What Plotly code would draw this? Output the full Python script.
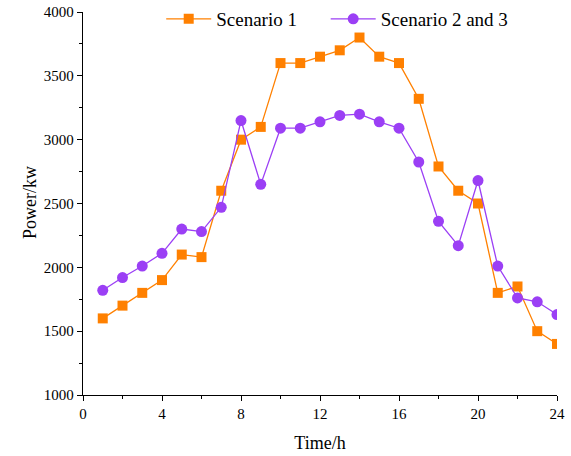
import plotly.graph_objects as go

hours = list(range(1, 25))
scenario1 = [1600, 1700, 1800, 1900, 2100, 2080, 2600, 3000, 3100, 3600, 3600, 3650,
             3700, 3800, 3650, 3600, 3320, 2790, 2600, 2500, 1800, 1850, 1500, 1400]
scenario23 = [1820, 1920, 2010, 2110, 2300, 2280, 2470, 3150, 2650, 3090, 3090, 3140,
              3190, 3200, 3140, 3090, 2825, 2360, 2170, 2680, 2010, 1760, 1730, 1630]

x_ticks = [0, 4, 8, 12, 16, 20, 24]
y_ticks = [1000, 1500, 2000, 2500, 3000, 3500, 4000]

ORANGE = "#FF8000"
PURPLE = "#9B3FF5"
FONT = "Liberation Serif"

fig = go.Figure()
fig.add_trace(go.Scatter(
    x=hours, y=scenario1, name="Scenario 1" + "\u00a0" * 5, mode="lines+markers",
    line=dict(color=ORANGE, width=1.3),
    marker=dict(symbol="square", size=10, color=ORANGE),
))
fig.add_trace(go.Scatter(
    x=hours, y=scenario23, name="Scenario 2 and 3", mode="lines+markers",
    line=dict(color=PURPLE, width=1.3),
    marker=dict(symbol="circle", size=11, color=PURPLE),
))

axis_common = dict(
    showline=True, linecolor="black", linewidth=1.3, mirror=False,
    ticks="outside", ticklen=5, tickwidth=1.2, tickcolor="black",
    showgrid=False, zeroline=False, automargin=False,
    tickfont=dict(family=FONT, size=15, color="black"),
)

H = 456
B = 61
TOP_PX = 12
plot_h = H - B  # top margin 0
fig.update_layout(
    width=571, height=H,
    margin=dict(l=83, r=14, t=0, b=B),
    paper_bgcolor="white", plot_bgcolor="white",
    font=dict(family=FONT, color="black"),
    xaxis=dict(range=[0, 24], tickvals=x_ticks,
               minor=dict(tickvals=list(range(2, 24, 4)), ticks="outside", ticklen=3, tickcolor="black"),
               title=dict(text="Time/h", font=dict(family=FONT, size=18)),
               **axis_common),
    yaxis=dict(range=[1000, 4000], tickvals=y_ticks, domain=[0, (plot_h - TOP_PX) / plot_h],
               minor=dict(tickvals=list(range(1250, 4000, 500)), ticks="outside", ticklen=3, tickcolor="black"),
               **axis_common),
    legend=dict(orientation="h", x=0.165, xanchor="left", y=(plot_h - 19) / plot_h, yanchor="middle",
                font=dict(family=FONT, size=19, color="black"),
                bgcolor="rgba(0,0,0,0)", itemwidth=45),
    annotations=[dict(text="Power/kw", textangle=-90, xref="paper", yref="paper",
                      x=(30 - 83) / 474, y=(plot_h - 203) / plot_h, showarrow=False,
                      xanchor="center", yanchor="middle",
                      font=dict(family=FONT, size=18, color="black"))],
)

fig.write_html("out.html")
